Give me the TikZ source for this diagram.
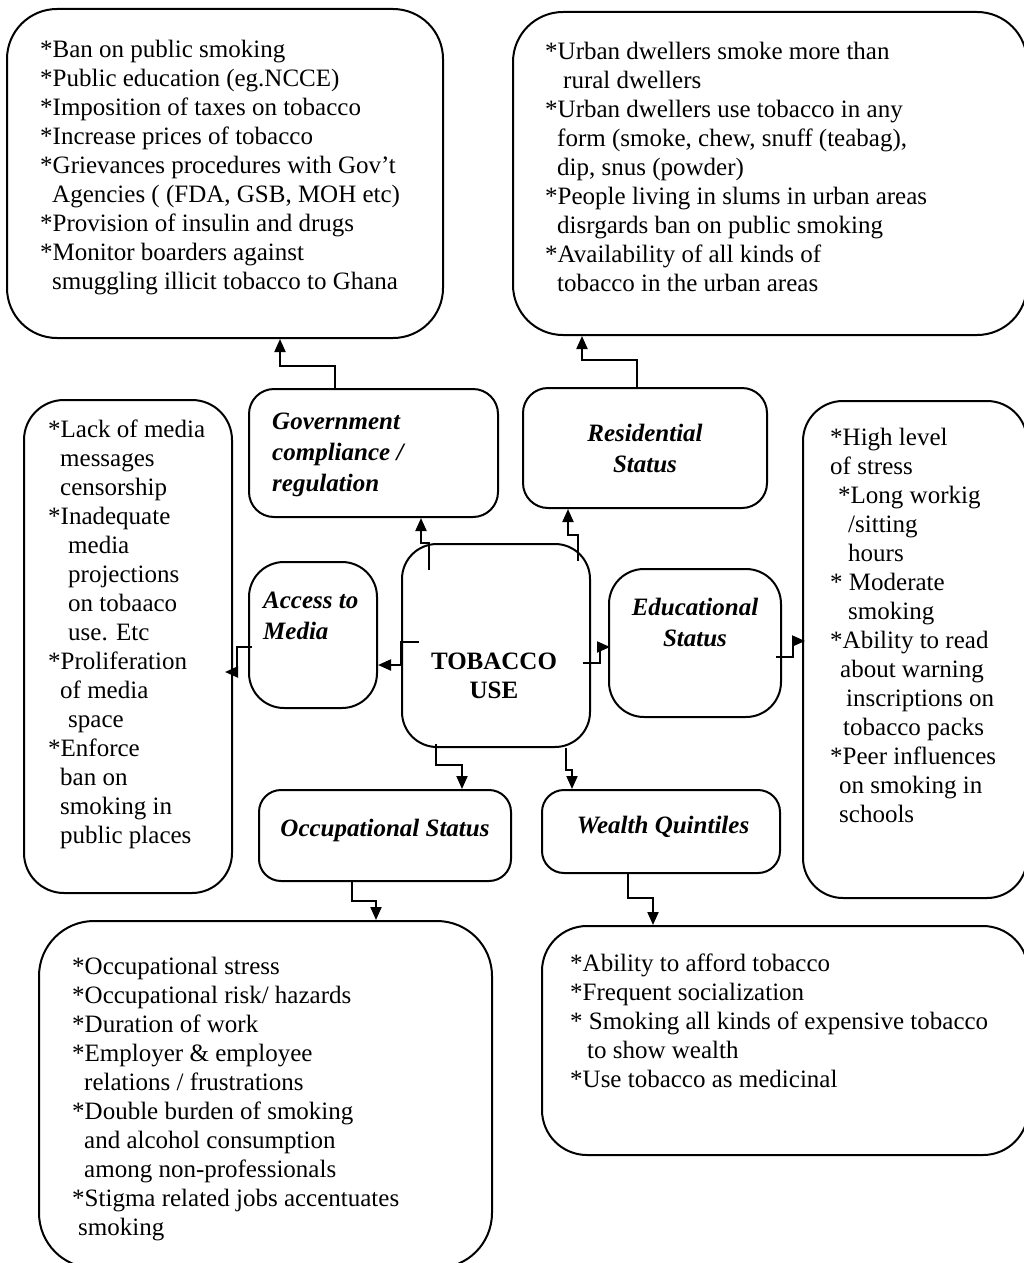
\documentclass[tikz,border=0pt]{standalone}
\usepackage{fontspec}
\setmainfont{Liberation Serif}
\usetikzlibrary{arrows.meta}

\newcommand{\listfont}{\fontsize{25}{29}\selectfont}
\newcommand{\headfont}{\fontsize{25}{31}\selectfont\bfseries\itshape}
\newcommand{\indnt}[1]{\hspace*{#1pt}}

\begin{document}
\begin{tikzpicture}[x=1pt, y=-1pt,
    panel/.style={draw, line width=2pt, rounded corners=#1, inner sep=0pt},
    panel/.default=30pt,
    items/.style={font=\listfont, align=left, anchor=north west, inner sep=0pt},
    head/.style={font=\headfont, align=center, anchor=north, inner sep=0pt},
    flow/.style={line width=2pt, -{Triangle[length=13pt,width=11pt]}}]

    \useasboundingbox (0,0) rectangle (1024,1263);

    % factor boxes
    \node[panel=35pt, minimum width=188, minimum height=203] (tob) at (496,645.5) {};
    \node[panel=25pt, minimum width=249, minimum height=128] (govbox) at (373.5,453) {};
    \node[panel=25pt, minimum width=244, minimum height=120] (resbox) at (645,448) {};
    \node[panel=35pt, minimum width=128, minimum height=146] (access) at (313,635) {};
    \node[panel=35pt, minimum width=172, minimum height=148] (edubox) at (695,643) {};
    \node[panel=22pt, minimum width=252, minimum height=91] (occbox) at (385,835.5) {};
    \node[panel=22pt, minimum width=238, minimum height=83] (wealthbox) at (661,831.5) {};

    % detail boxes
    \node[panel=50pt, minimum width=436, minimum height=329] (govlist) at (225,173.5) {};
    \node[panel=50pt, minimum width=514, minimum height=323] (reslist) at (770,173.5) {};
    \node[panel=40pt, minimum width=208, minimum height=493] (medialist) at (128,646.5) {};
    \node[panel=40pt, minimum width=224, minimum height=497] (edulist) at (915,649.5) {};
    \node[panel=55pt, minimum width=453, minimum height=347] (occlist) at (265.5,1094.5) {};
    \node[panel=45pt, minimum width=486, minimum height=229] (wealthlist) at (785,1040.5) {};

    % headings
    \node[head, font=\listfont\bfseries] (tobhead) at (494,649.3) {\strut TOBACCO\\USE};
    \node[head, align=left, anchor=north west] (govhead) at (272,407.3) {\strut Government\\compliance /\\regulation};
    \node[head] (reshead) at (645,419.3) {\strut Residential\\Status};
    \node[head, align=left, anchor=north west] (acchead) at (263,586.3) {\strut Access to\\Media};
    \node[head] (eduhead) at (695,593.3) {\strut Educational\\Status};
    \node[head] (occhead) at (385,814.3) {\strut Occupational Status};
    \node[head] (wealthhead) at (663,811.3) {\strut Wealth Quintiles};

    % lists
    \node[items] (govtext) at (40,36.7) {\strut*Ban on public smoking\\
        *Public education (eg.NCCE)\\
        *Imposition of taxes on tobacco\\
        *Increase prices of tobacco\\
        *Grievances procedures with Gov’t\\
        \indnt{12}Agencies ( (FDA, GSB, MOH etc)\\
        *Provision of insulin and drugs\\
        *Monitor boarders against\\
        \indnt{12}smuggling illicit tobacco to Ghana};
    \node[items] (restext) at (545,38.7) {\strut*Urban dwellers smoke more than\\
        \indnt{18}rural dwellers\\
        *Urban dwellers use tobacco in any\\
        \indnt{12}form (smoke, chew, snuff (teabag),\\
        \indnt{12}dip, snus (powder)\\
        *People living in slums in urban areas\\
        \indnt{12}disrgards ban on public smoking\\
        *Availability of all kinds of\\
        \indnt{12}tobacco in the urban areas};
    \node[items] (mediatext) at (48,416.7) {\strut*Lack of media\\
        \indnt{12}messages\\
        \indnt{12}censorship\\
        *Inadequate\\
        \indnt{20}media\\
        \indnt{20}projections\\
        \indnt{20}on tobaaco\\
        \indnt{20}use. Etc\\
        *Proliferation\\
        \indnt{12}of media\\
        \indnt{20}space\\
        *Enforce\\
        \indnt{12}ban on\\
        \indnt{12}smoking in\\
        \indnt{12}public places};
    \node[items] (edutext) at (830,424.7) {\strut*High level\\
        of stress\\
        \indnt{8}*Long workig\\
        \indnt{18}/sitting\\
        \indnt{18}hours\\
        * Moderate\\
        \indnt{18}smoking\\
        *Ability to read\\
        \indnt{10}about warning\\
        \indnt{16}inscriptions on\\
        \indnt{13}tobacco packs\\
        *Peer influences\\
        \indnt{9}on smoking in\\
        \indnt{9}schools};
    \node[items] (occtext) at (72,953.7) {\strut*Occupational stress\\
        *Occupational risk/ hazards\\
        *Duration of work\\
        *Employer \& employee\\
        \indnt{12}relations / frustrations\\
        *Double burden of smoking\\
        \indnt{12}and alcohol consumption\\
        \indnt{12}among non-professionals\\
        *Stigma related jobs accentuates\\
        \indnt{6}smoking};
    \node[items] (wealthtext) at (570,950.7) {\strut*Ability to afford tobacco\\
        *Frequent socialization\\
        * Smoking all kinds of expensive tobacco\\
        \indnt{17}to show wealth\\
        *Use tobacco as medicinal};

    % connectors
    \draw[flow] ([xshift=87]govbox.north west) -- ++(0,-22) -| ([xshift=274]govlist.south west);
    \draw[flow] ([xshift=115]resbox.north west) -- ++(0,-27) -| ([xshift=70]reslist.south west);
    \draw[flow] ([shift={(28,27)}]tob.north west) |- ([xshift=20]tob.north west) -- ([xshift=173]govbox.south west);
    \draw[flow] ([shift={(-13,18)}]tob.north east) -- ++(0,-26) -| ([xshift=46]resbox.south west);
    \draw[flow] ([shift={(18,99)}]tob.north west) -- ++(-18,0) |- ([shift={(0,30)}]access.east);
    \draw[flow] ([shift={(4,12)}]access.west) -- ++(-15,0) |- ([shift={(-8,25.5)}]medialist.east);
    \draw[flow] ([shift={(-8,17.5)}]tob.east) -- ++(17,0) |- ([shift={(2,4)}]edubox.west);
    \draw[flow] ([shift={(-6,14)}]edubox.east) -- ++(17,0) |- ([shift={(3,-8.5)}]edulist.west);
    \draw[flow] ([shift={(35,-4)}]tob.south west) -- ++(0,21) -| ([xshift=204]occbox.north west);
    \draw[flow] ([xshift=-25]tob.south east) -- ++(0,22) -| ([xshift=31]wealthbox.north west);
    \draw[flow] ([xshift=94]occbox.south west) -- ++(0,19) -| ([xshift=338]occlist.north west);
    \draw[flow] ([xshift=87]wealthbox.south west) -- ++(0,24) -| ([xshift=112]wealthlist.north west);
\end{tikzpicture}
\end{document}
